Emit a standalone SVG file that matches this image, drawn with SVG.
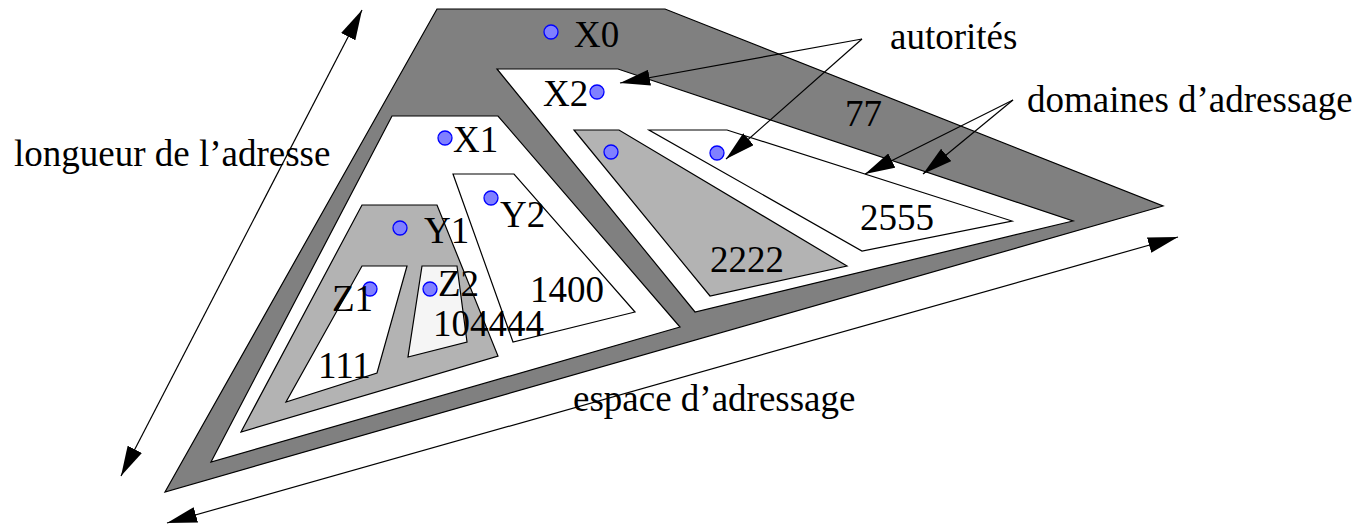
<svg xmlns="http://www.w3.org/2000/svg" width="1361" height="524" viewBox="0 0 1361 524">
<style>
.sh{stroke:#000;stroke-width:1.2;stroke-linejoin:miter}
.dark{fill:#808080}
.mid{fill:#b3b3b3}
.wh{fill:#fff}
.lt{fill:#f5f5f5}
.dot{fill:#8080ff;stroke:#0000ff;stroke-width:1.3}
text{font-family:"Liberation Serif","Times New Roman",serif;font-size:37px;fill:#000}
.ln{fill:none;stroke:#000;stroke-width:1.2}
</style>
<defs>
<marker id="ah" markerUnits="userSpaceOnUse" markerWidth="30" markerHeight="16" refX="30" refY="8" orient="auto-start-reverse" viewBox="0 0 30 16">
<path d="M0,0 L30,8 L0,16 z" fill="#000"/>
</marker>
</defs>
<rect width="1361" height="524" fill="#fff"/>
<g id="X0">
<polygon class="sh dark" points="437,9 665,9 1163,206 165,492"/>
<circle class="dot" cx="551" cy="32" r="7"/>
<text x="574" y="47">X0</text>
<text x="845" y="126">77</text>
</g>
<g id="X1">
<polygon class="sh wh" points="392,116 498,116 680,327 211,462"/>
<circle class="dot" cx="445" cy="138" r="7"/>
<text x="453" y="152">X1</text>
</g>
<g id="X2">
<polygon class="sh wh" points="497,69 618,69 1073,221 695,312"/>
<circle class="dot" cx="597" cy="92" r="7"/>
<text x="543" y="106">X2</text>
</g>
<g id="Y2">
<polygon class="sh wh" points="453,174 514,174 635,312 513,342"/>
<circle class="dot" cx="491" cy="198" r="7"/>
<text x="500" y="227">Y2</text>
<text x="530" y="302">1400</text>
</g>
<g id="D2222">
<polygon class="sh mid" points="574,130 619,130 847,266 710,296"/>
<circle class="dot" cx="611" cy="152" r="7"/>
<text x="710" y="272">2222</text>
</g>
<g id="D2555">
<polygon class="sh wh" points="649,130 727,130 1012,221 862,251"/>
<circle class="dot" cx="717" cy="153" r="7"/>
<text x="860" y="230">2555</text>
</g>
<g id="Y1">
<polygon class="sh mid" points="362,205 437,205 498,356 241,432"/>
<circle class="dot" cx="400" cy="228" r="7"/>
<text x="424" y="243">Y1</text>
</g>
<g id="Z1">
<polygon class="sh wh" points="362,266 407,266 377,373 286,402"/>
<circle class="dot" cx="370" cy="289" r="7"/>
<text x="332" y="311">Z1</text>
<text x="318" y="378">111</text>
</g>
<g id="Z2">
<polygon class="sh lt" points="422,266 457,266 467,342 408,357"/>
<circle class="dot" cx="430" cy="289" r="7"/>
<text x="438" y="296">Z2</text>
<text x="433" y="336">104444</text>
</g>
<g id="labels">
<text x="890" y="49">autorités</text>
<text x="1027" y="112">domaines d’adressage</text>
<text x="14" y="166">longueur de l’adresse</text>
<text x="573" y="411">espace d’adressage</text>
</g>
<g id="connectors">
<line class="ln" x1="862" y1="39" x2="620" y2="83" marker-end="url(#ah)"/>
<line class="ln" x1="862" y1="39" x2="726" y2="159" marker-end="url(#ah)"/>
<line class="ln" x1="1013" y1="100" x2="865" y2="174" marker-end="url(#ah)"/>
<line class="ln" x1="1013" y1="100" x2="923" y2="174" marker-end="url(#ah)"/>
<line class="ln" x1="362" y1="10" x2="121" y2="476" marker-start="url(#ah)" marker-end="url(#ah)"/>
<line class="ln" x1="167" y1="523" x2="1178" y2="237" marker-start="url(#ah)" marker-end="url(#ah)"/>
</g>
</svg>
